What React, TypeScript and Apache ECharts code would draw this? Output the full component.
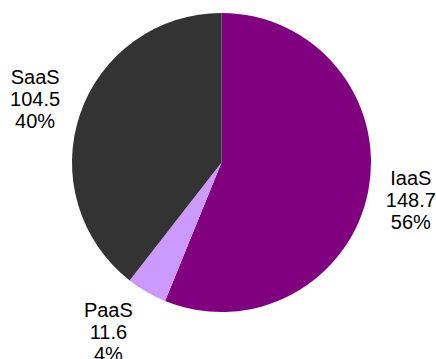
import React, { useEffect, useRef } from "react";
import * as echarts from "echarts";

const categories = ["IaaS", "PaaS", "SaaS"];
const values = [148.7, 11.6, 104.5];
const colors = ["#800080", "#CC99FF", "#333333"];

export default function App() {
  const ref = useRef<HTMLDivElement>(null);
  useEffect(() => {
    if (!ref.current) return;
    const chart = echarts.init(ref.current, null, { renderer: "svg" });
    const data = categories.map((name, i) => ({
      name,
      value: values[i],
      itemStyle: { color: colors[i] },
    }));
    const labelOffsets: Record<string, number[]> = {
      IaaS: [-3, 0],
      PaaS: [-15, 0],
      SaaS: [-1, 0],
    };
    const labelData = categories.map((name, i) => ({
      name,
      value: values[i],
      label: { offset: labelOffsets[name] },
    }));
    chart.setOption({
      animation: false,
      series: [
        {
          type: "pie",
          center: [221.5, 162.5],
          radius: [0, 149.5],
          startAngle: 90,
          clockwise: true,
          silent: true,
          label: { show: false },
          labelLine: { show: false },
          itemStyle: { borderWidth: 0 },
          data,
        },
        {
          type: "pie",
          center: [221.5, 162.5],
          radius: [188, 198],
          startAngle: 90,
          clockwise: true,
          silent: true,
          percentPrecision: 0,
          itemStyle: { color: "rgba(0,0,0,0)", borderWidth: 0 },
          labelLine: { show: false },
          label: {
            show: true,
            position: "inside",
            formatter: "{b}\n{c}\n{d}%",
            fontFamily: "Liberation Sans, Arial, sans-serif",
            fontSize: 20,
            lineHeight: 22,
            color: "#000000",
            align: "center",
          },
          data: labelData,
        },
      ],
    });
    return () => chart.dispose();
  }, []);
  return (
    <div
      ref={ref}
      style={{ position: "fixed", left: 0, top: 0, width: 436, height: 359, background: "#ffffff" }}
    />
  );
}
